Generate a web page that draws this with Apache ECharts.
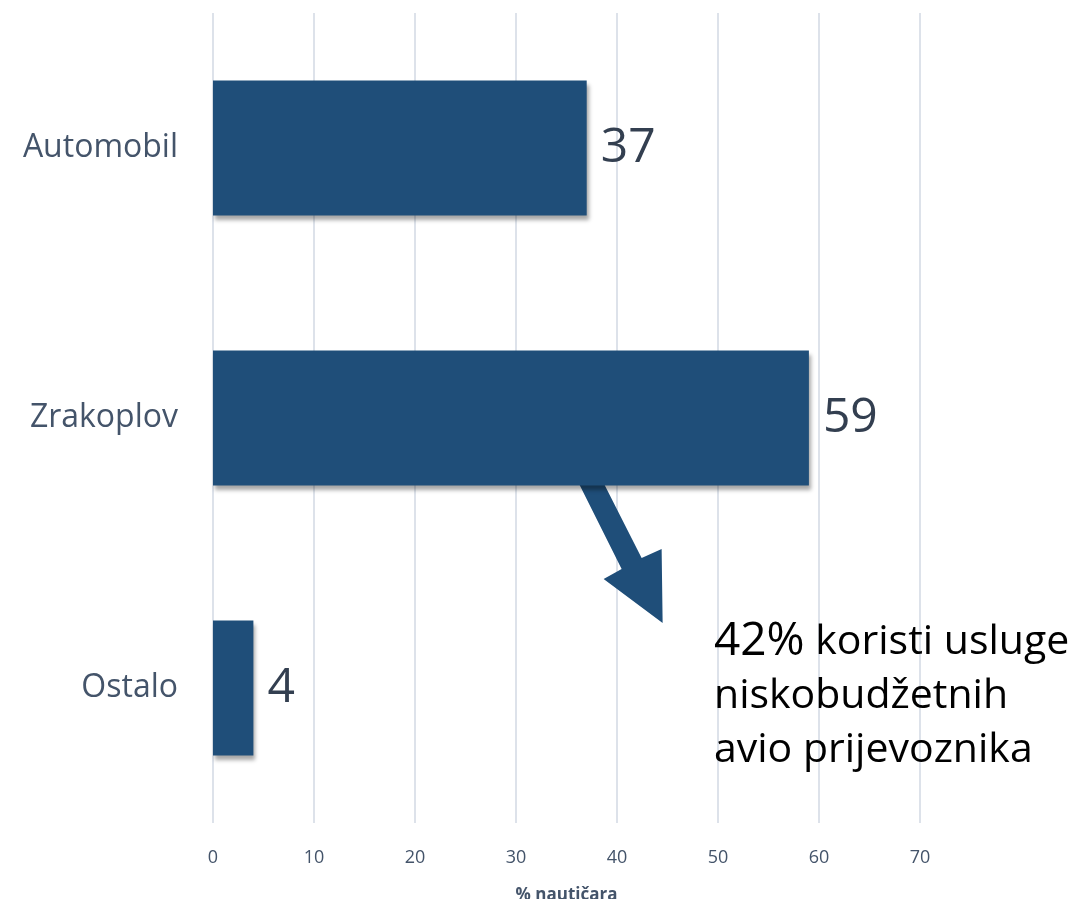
<!DOCTYPE html>
<html lang="hr">
<head>
    <meta charset="UTF-8">
    <title>Prijevoz nautičara</title>
    <script src="https://cdn.jsdelivr.net/npm/echarts@6/dist/echarts.min.js"></script>
    <style>
        html, body { margin: 0; padding: 0; background: #fff; }
        #chart { width: 1082px; height: 899px; }
    </style>
</head>
<body>
<div id="chart"></div>
<script type="text/javascript">
    var categories = ['Automobil', 'Zrakoplov', 'Ostalo'];
    var values = [37, 59, 4];
    var xTicks = [0, 10, 20, 30, 40, 50, 60, 70];
    var axisName = '% nautičara';
    var noteBig = '42%';
    var noteLines = [' koristi usluge', 'niskobudžetnih', 'avio prijevoznika'];

    var font = '"Open Sans", "Noto Sans", sans-serif';
    var barColor = '#1f4e79';
    var textColor = '#44546a';

    var chart = echarts.init(document.getElementById('chart'));
    chart.setOption({
        animation: false,
        grid: { left: 213, right: 162, top: 13, bottom: 76, outerBoundsMode: 'none' },
        xAxis: {
            type: 'value',
            min: 0, max: 70, interval: 10,
            name: axisName,
            nameLocation: 'middle',
            nameGap: 64,
            nameTextStyle: { fontFamily: font, fontSize: 17, fontWeight: 'bold', color: textColor },
            axisLine: { show: false },
            axisTick: { show: false },
            axisLabel: {
                fontFamily: font, fontSize: 18, color: textColor, margin: 26,
                formatter: function (v) { return xTicks.indexOf(v) >= 0 ? String(v) : ''; }
            },
            splitLine: { lineStyle: { color: '#dde2ea', width: 2 } }
        },
        yAxis: {
            type: 'category',
            inverse: true,
            data: categories,
            axisLine: { show: false },
            axisTick: { show: false },
            axisLabel: { fontFamily: font, fontSize: 32, color: textColor, margin: 35 }
        },
        series: [{
            type: 'bar',
            data: values,
            barWidth: 135,
            itemStyle: {
                color: barColor,
                shadowColor: 'rgba(0,0,0,0.35)',
                shadowBlur: 4,
                shadowOffsetX: 2,
                shadowOffsetY: 4
            },
            label: {
                show: true,
                position: 'right',
                distance: 14,
                fontFamily: font,
                fontSize: 48,
                color: '#333f50'
            }
        }]
    });

    // arrow + note anchored to the Zrakoplov bar
    var barBottom = chart.convertToPixel({ yAxisIndex: 0 }, 'Zrakoplov') + 67;
    var ax = chart.convertToPixel({ xAxisIndex: 0 }, 36.3);
    var arrow = [[0, 0], [25, 0], [62, 73], [82, 64], [83, 138], [24, 94], [42, 84]];
    chart.setOption({
        graphic: [{
            type: 'polygon',
            shape: { points: arrow.map(function (p) { return [ax + p[0], barBottom + p[1]]; }) },
            style: { fill: barColor }
        }, {
            type: 'text',
            left: 714,
            top: 619,
            style: {
                text: '{b|' + noteBig + '}{n|' + noteLines[0] + '}\n{n|' + noteLines[1] + '}\n{n|' + noteLines[2] + '}',
                rich: {
                    b: { fontFamily: font, fontSize: 46, color: '#000', lineHeight: 54 },
                    n: { fontFamily: font, fontSize: 41, color: '#000', lineHeight: 54 }
                }
            }
        }]
    });
</script>
</body>
</html>
